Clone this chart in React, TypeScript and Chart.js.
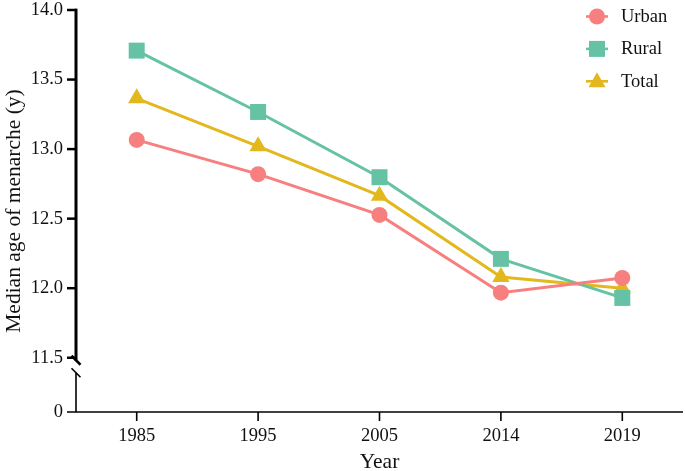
import React, { useEffect, useRef } from "react";
import { Chart, registerables } from "chart.js";

Chart.register(...registerables);

const years = ["1985", "1995", "2005", "2014", "2019"];
const urban = [13.066, 12.82, 12.527, 11.968, 12.074];
const rural = [13.708, 13.267, 12.798, 12.211, 11.93];
const total = [13.365, 13.02, 12.665, 12.08, 12.0];
const seriesNames = ["Urban", "Rural", "Total"];
const seriesColors = ["#F77F7F", "#66C2A5", "#E3B81E"];
const seriesShapes = ["circle", "rect", "triangle"];
const yTickValues = [11.5, 12.0, 12.5, 13.0, 13.5, 14.0];
const yBreakLabel = "0";
const yBreakBase = 11.11; // axis position where the broken segment's "0" sits
const yMax = 14.0;
const xTitle = "Year";
const yTitle = "Median age of menarche (y)";

const FONT = "'Liberation Serif', 'Times New Roman', serif";

function drawMarker(ctx: CanvasRenderingContext2D, shape: string, x: number, y: number, color: string) {
  ctx.fillStyle = color;
  ctx.beginPath();
  if (shape === "circle") {
    ctx.arc(x, y, 8, 0, Math.PI * 2);
  } else if (shape === "rect") {
    ctx.rect(x - 8, y - 8, 16, 16);
  } else {
    ctx.moveTo(x, y - 9);
    ctx.lineTo(x + 8.5, y + 6);
    ctx.lineTo(x - 8.5, y + 6);
    ctx.closePath();
  }
  ctx.fill();
}

const brokenAxisPlugin = {
  id: "brokenAxis",
  beforeDatasetsDraw(chart: any) {
    const { ctx, chartArea, scales } = chart;
    const { left, right, bottom } = chartArea;
    const x = scales.x;
    const y = scales.y;
    const line = (x1: number, y1: number, x2: number, y2: number, w: number) => {
      ctx.lineWidth = w;
      ctx.beginPath();
      ctx.moveTo(x1, y1);
      ctx.lineTo(x2, y2);
      ctx.stroke();
    };
    ctx.save();
    ctx.strokeStyle = "#000";
    ctx.lineCap = "butt";
    const pTop = y.getPixelForValue(yMax);
    const pBreak = y.getPixelForValue(yTickValues[0]);
    // upper (thick) segment
    line(left, pTop - 1.2, left, pBreak + 2.5, 3);
    line(left - 4.5, pBreak - 2, left + 4.5, pBreak + 7, 2.5);
    // lower (thin) segment
    line(left, pBreak + 15, left, bottom, 1.6);
    line(left - 4.5, pBreak + 10.5, left + 4.5, pBreak + 19.5, 1.6);
    // y ticks
    yTickValues.forEach((v) => {
      const py = y.getPixelForValue(v);
      line(left - 9, py, left + 1, py, 2.5);
    });
    // x axis with "0" tick
    line(left - 9, bottom, right, bottom, 1.6);
    years.forEach((_, i) => {
      const px = x.getPixelForValue(i);
      line(px, bottom, px, bottom + 9, 1.6);
    });
    ctx.restore();
  },
  afterDatasetsDraw(chart: any) {
    const { ctx } = chart;
    ctx.save();
    seriesNames.forEach((name, i) => {
      const cy = 16.5 + i * 32.4;
      const cx = 597;
      ctx.strokeStyle = seriesColors[i];
      ctx.lineWidth = 2.6;
      ctx.beginPath();
      ctx.moveTo(cx - 11, cy);
      ctx.lineTo(cx + 11, cy);
      ctx.stroke();
      drawMarker(ctx, seriesShapes[i], cx, cy, seriesColors[i]);
      ctx.fillStyle = "#111";
      ctx.font = `18.5px ${FONT}`;
      ctx.textBaseline = "middle";
      ctx.textAlign = "left";
      ctx.fillText(name, 621, cy + 0.5);
    });
    ctx.restore();
  },
};

export default function App() {
  const canvasRef = useRef<HTMLCanvasElement | null>(null);

  useEffect(() => {
    const canvas = canvasRef.current;
    if (!canvas) return;
    const seriesData = [urban, rural, total];
    const chart = new Chart(canvas, {
      type: "line",
      data: {
        labels: years,
        datasets: seriesNames.map((name, i) => ({
          label: name,
          data: seriesData[i],
          borderColor: seriesColors[i],
          backgroundColor: seriesColors[i],
          borderWidth: 3,
          pointStyle: seriesShapes[i] as any,
          pointRadius: i === 0 ? 8 : i === 1 ? 11.3 : 10,
          pointBorderWidth: 0,
          pointBackgroundColor: seriesColors[i],
          pointHoverRadius: i === 0 ? 8 : i === 1 ? 11.3 : 10,
          tension: 0,
          fill: false,
          clip: false as any,
        })),
      },
      options: {
        responsive: false,
        animation: false,
        devicePixelRatio: 1,
        layout: { autoPadding: false, padding: { left: 0, right: 2, top: 10, bottom: 0 } },
        plugins: {
          legend: { display: false },
          tooltip: { enabled: false },
        },
        scales: {
          x: {
            type: "category",
            offset: true,
            grid: { display: false, drawTicks: false },
            border: { display: false },
            ticks: {
              padding: 13,
              color: "#111",
              font: { family: FONT, size: 18.5 },
              maxRotation: 0,
            },
            title: {
              display: true,
              text: xTitle,
              color: "#111",
              font: { family: FONT, size: 21.5, lineHeight: 0.8 },
              padding: 0,
            },
            afterFit: (s: any) => {
              s.height = 59;
              s.paddingLeft = 0;
              s.paddingRight = 0;
            },
          },
          y: {
            type: "linear",
            min: yBreakBase,
            max: yMax,
            grid: { display: false, drawTicks: false },
            border: { display: false },
            afterBuildTicks: (s: any) => {
              s.ticks = [yBreakBase, ...yTickValues].map((value) => ({ value }));
            },
            ticks: {
              padding: 13,
              color: "#111",
              font: { family: FONT, size: 18.5 },
              callback: (v: any, idx: number) => (idx === 0 ? yBreakLabel : Number(v).toFixed(1)),
            },
            title: {
              display: true,
              text: yTitle,
              color: "#111",
              font: { family: FONT, size: 21.5 },
              padding: { top: 1, bottom: 0 },
            },
            afterFit: (s: any) => {
              s.width = 76;
              s.paddingTop = 0;
              s.paddingBottom = 0;
            },
          },
        },
      },
      plugins: [brokenAxisPlugin],
    });
    return () => chart.destroy();
  }, []);

  return (
    <div style={{ position: "absolute", left: 0, top: 0, width: 685, height: 471, background: "#fff" }}>
      <canvas ref={canvasRef} width={685} height={471} style={{ width: 685, height: 471, display: "block" }} />
    </div>
  );
}
